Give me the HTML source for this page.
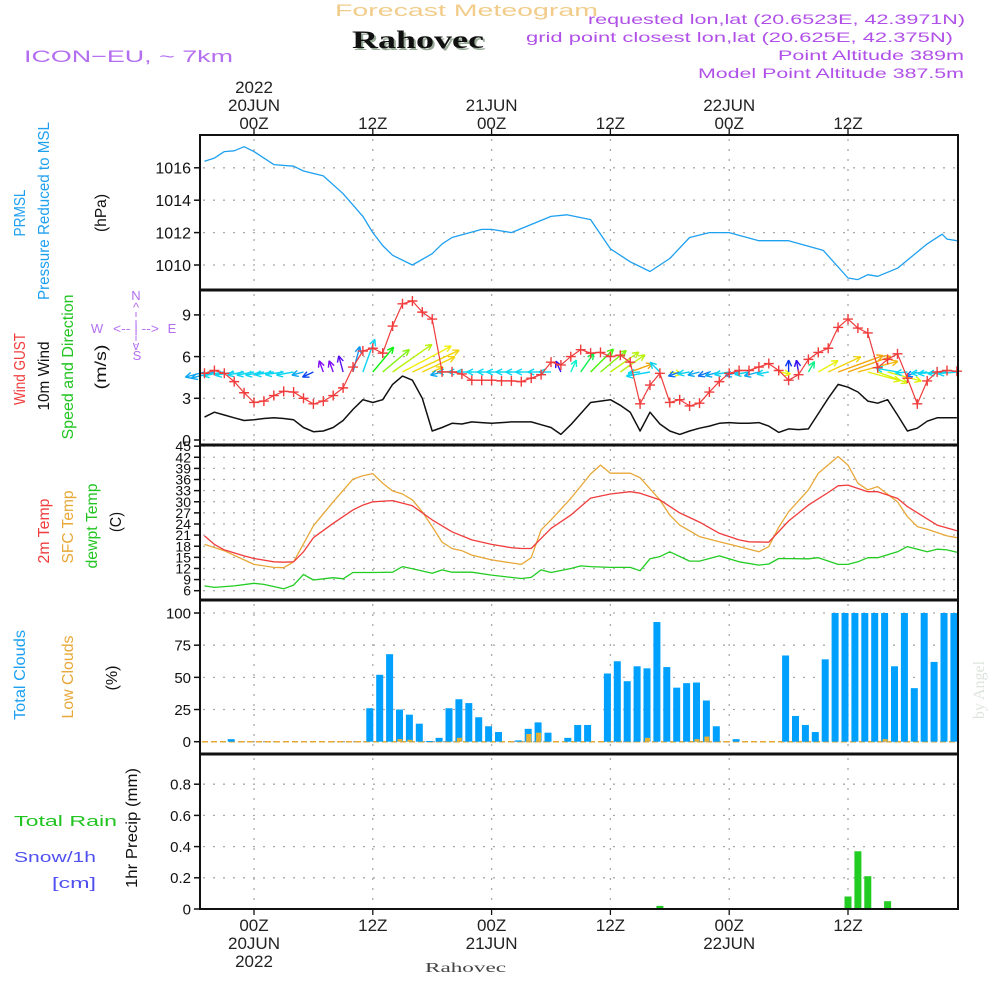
<!DOCTYPE html>
<html><head><meta charset="utf-8"><title>Forecast Meteogram Rahovec</title>
<style>
html,body{margin:0;padding:0;background:#fff;}
svg{display:block;font-family:"Liberation Sans",sans-serif;}
</style></head>
<body>
<svg id="chart" width="1000" height="1000" viewBox="0 0 1000 1000" xmlns="http://www.w3.org/2000/svg">
<g>
<text x="335" y="16" font-size="17" fill="#f2cc8a" textLength="263" lengthAdjust="spacingAndGlyphs">Forecast Meteogram</text>
<text x="354" y="50" font-size="25" font-weight="bold" font-family="Liberation Serif, serif" fill="#9a9" textLength="132" lengthAdjust="spacingAndGlyphs">Rahovec</text>
<text x="352" y="48" font-size="25" font-weight="bold" font-family="Liberation Serif, serif" fill="#111" textLength="132" lengthAdjust="spacingAndGlyphs">Rahovec</text>
<text x="24" y="62" font-size="17" fill="#b46ef0" textLength="209" lengthAdjust="spacingAndGlyphs">ICON−EU, ~ 7km</text>
<text x="588" y="24" font-size="14" fill="#b050e8" textLength="377" lengthAdjust="spacingAndGlyphs">requested lon,lat (20.6523E, 42.3971N)</text>
<text x="526" y="42" font-size="14" fill="#b050e8" textLength="427" lengthAdjust="spacingAndGlyphs">grid point closest lon,lat (20.625E, 42.375N)</text>
<text x="778" y="60" font-size="14" fill="#b050e8" textLength="186" lengthAdjust="spacingAndGlyphs">Point Altitude 389m</text>
<text x="698" y="78" font-size="14" fill="#b050e8" textLength="266" lengthAdjust="spacingAndGlyphs">Model Point Altitude 387.5m</text>
</g>
<g font-size="16">
<text transform="translate(25,213) rotate(-90)" text-anchor="middle" fill="#1ea0f0" textLength="47" lengthAdjust="spacingAndGlyphs">PRMSL</text>
<text transform="translate(49,211) rotate(-90)" text-anchor="middle" fill="#1ea0f0" textLength="178" lengthAdjust="spacingAndGlyphs">Pressure Reduced to MSL</text>
<text transform="translate(106,213) rotate(-90)" text-anchor="middle" fill="#111" textLength="38" lengthAdjust="spacingAndGlyphs">(hPa)</text>
<text transform="translate(25,369) rotate(-90)" text-anchor="middle" fill="#f03c3c" textLength="72" lengthAdjust="spacingAndGlyphs">Wind GUST</text>
<text transform="translate(49,376) rotate(-90)" text-anchor="middle" fill="#111" textLength="69" lengthAdjust="spacingAndGlyphs">10m Wind</text>
<text transform="translate(73,367) rotate(-90)" text-anchor="middle" fill="#22c422" textLength="145" lengthAdjust="spacingAndGlyphs">Speed and Direction</text>
<text transform="translate(106,367) rotate(-90)" text-anchor="middle" fill="#111" textLength="45" lengthAdjust="spacingAndGlyphs">(m/s)</text>
<g fill="#b46ef0" font-size="13" text-anchor="middle">
<text x="136" y="300">N</text><text x="136" y="312">^</text>
<text x="137" y="360">S</text><text x="136" y="350">v</text>
<text x="97" y="333">W</text><text x="172" y="333">E</text>
<text x="136" y="333" textLength="46" lengthAdjust="spacingAndGlyphs">&lt;-- | --&gt;</text>
<line x1="136" y1="312" x2="136" y2="345" stroke="#b46ef0" stroke-dasharray="5,3"/>
</g>
<text transform="translate(49,531) rotate(-90)" text-anchor="middle" fill="#f03c3c" textLength="65" lengthAdjust="spacingAndGlyphs">2m Temp</text>
<text transform="translate(73,527) rotate(-90)" text-anchor="middle" fill="#e8a838" textLength="73" lengthAdjust="spacingAndGlyphs">SFC Temp</text>
<text transform="translate(97,526) rotate(-90)" text-anchor="middle" fill="#22c422" textLength="85" lengthAdjust="spacingAndGlyphs">dewpt Temp</text>
<text transform="translate(121,522) rotate(-90)" text-anchor="middle" fill="#111" textLength="20" lengthAdjust="spacingAndGlyphs">(C)</text>
<text transform="translate(25,675) rotate(-90)" text-anchor="middle" fill="#1ea0f0" textLength="90" lengthAdjust="spacingAndGlyphs">Total Clouds</text>
<text transform="translate(73,677) rotate(-90)" text-anchor="middle" fill="#e8a838" textLength="83" lengthAdjust="spacingAndGlyphs">Low Clouds</text>
<text transform="translate(117,678) rotate(-90)" text-anchor="middle" fill="#111" textLength="25" lengthAdjust="spacingAndGlyphs">(%)</text>
<text x="14" y="826" font-size="15" fill="#22c422" textLength="103" lengthAdjust="spacingAndGlyphs">Total   Rain</text>
<text x="14" y="862" font-size="15" fill="#5050f0" textLength="82" lengthAdjust="spacingAndGlyphs">Snow/1h</text>
<text x="52" y="888" font-size="15" fill="#5050f0" textLength="44" lengthAdjust="spacingAndGlyphs">[cm]</text>
<text transform="translate(137,828) rotate(-90)" text-anchor="middle" fill="#111" textLength="120" lengthAdjust="spacingAndGlyphs">1hr Precip (mm)</text>
</g>
<text transform="translate(984,690) rotate(-90)" text-anchor="middle" font-size="16" font-family="Liberation Serif, serif" fill="#dde4dd">by Angel</text>
<text x="425" y="972" font-size="14" font-family="Liberation Serif, serif" fill="#444" textLength="81" lengthAdjust="spacingAndGlyphs">Rahovec</text>
<g id="layer"></g>
</svg>
<script>
// ---- data ----
var pTimes = [-5,-4,-3,-2,-1,0,1,2,4,5,7,9,11,12,13,14,16,18,19,20,23,24,26,28,30,31.6,34,36,38,40,42,44,46,48,51,54,57.5,60,61,62,63,65,66,68,69.5,70,71];
var pVals  = [1016.4,1016.6,1017.0,1017.05,1017.3,1017.0,1016.6,1016.2,1016.1,1015.8,1015.5,1014.4,1013.0,1012.0,1011.2,1010.6,1010.0,1010.7,1011.3,1011.7,1012.2,1012.2,1012.0,1012.5,1013.0,1013.1,1012.8,1011.0,1010.2,1009.6,1010.4,1011.7,1012.0,1012.0,1011.5,1011.5,1010.9,1009.2,1009.1,1009.4,1009.3,1009.8,1010.3,1011.3,1011.9,1011.6,1011.5];
var pressureTicks = [1010,1012,1014,1016];

var hourStart = -5;
var gustVals = [4.8,5.0,4.8,4.2,3.4,2.7,2.8,3.2,3.5,3.45,3.0,2.6,2.8,3.2,3.75,5.25,6.4,6.6,6.25,8.2,9.8,10.0,9.2,8.7,4.9,4.9,4.75,4.3,4.3,4.3,4.25,4.25,4.2,4.45,4.7,5.6,5.4,6.0,6.5,6.25,6.3,6.0,6.1,5.6,2.6,3.95,4.8,2.7,2.9,2.45,2.65,3.45,4.2,4.8,5.0,5.0,5.25,5.5,5.0,4.3,4.7,5.8,6.3,6.6,8.1,8.7,8.05,7.7,5.2,5.8,6.2,4.45,2.6,4.25,4.9,5.0,4.95];
var windVals = [1.65,2.0,1.8,1.6,1.4,1.45,1.55,1.6,1.55,1.45,0.9,0.6,0.65,0.9,1.4,2.2,2.9,2.7,2.9,4.0,4.6,4.3,3.0,0.65,0.9,1.2,1.15,1.3,1.25,1.2,1.25,1.3,1.3,1.3,1.1,0.9,0.4,1.1,1.9,2.7,2.8,2.9,2.5,2.0,0.65,2.0,1.15,0.65,0.4,0.65,0.85,1.0,1.2,1.25,1.2,1.2,1.25,1.0,0.55,0.8,0.75,0.8,1.9,3.0,4.0,3.8,3.45,2.8,2.65,2.9,1.8,0.65,0.85,1.35,1.6,1.6,1.6];
var windDir = [195,195,190,190,190,190,190,188,188,190,195,205,110,110,105,75,70,50,40,35,28,25,25,25,195,180,180,180,180,180,180,180,180,180,180,180,115,65,55,45,40,35,35,20,185,190,135,350,200,190,195,200,195,190,195,190,195,190,350,90,100,60,30,25,20,20,15,-15,-20,-15,170,185,200,185,185,185,185];
var windTicks = [0,3,6,9];

var t2Times = [-5,-4,-3,-1,0,2,3,4,5,6,8,10,11,12,14,16,18,20,22,24,26,27,28,29,30,32,34,36,38,39,41,43,45,47,49,50,52,54,56,58,59,60,62,63,65,66,69,71];
var t2Vals  = [20.8,18.5,17.0,15.4,14.7,13.8,13.7,13.8,16.5,20.3,24.2,27.8,29.1,30.0,30.3,28.9,25.1,21.9,19.7,18.5,17.6,17.4,17.4,20.1,22.8,26.4,31.0,32.1,32.7,32.3,30.5,27.0,24.5,21.5,19.7,19.2,19.1,24.8,29.1,32.5,34.3,34.5,32.7,32.7,30.9,28.7,23.7,22.2];
var sfcTimes = [-5,-3,-1,0,2,3,4,6,8,10,11,12,13,14,15,16,17,18,19,20,21,22,24,27,28,29,30,32,34,35,36,38,39,41,42,43,45,47,49,51,52,53,54,56,57,59,60,61,62,63,65,66,67,68,70,71];
var sfcVals  = [18.5,16.8,14.3,13.1,12.3,12.2,13.8,23.5,30.0,36.1,37.0,37.6,35.0,32.9,32.1,30.5,27.3,23.3,19.1,17.4,16.8,15.6,14.3,13.1,14.9,22.4,25.1,30.9,37.5,39.9,37.7,37.7,36.5,30.5,26.4,23.7,20.6,19.2,17.9,16.5,17.9,23.1,27.3,33.2,37.7,42.2,39.9,35.0,33.2,34.1,30.0,26.0,23.3,22.6,20.8,20.3];
var dewTimes = [-5,-4,-2,0,1,3,4,5,6,8,9,10,12,14,15,16,18,19,20,22,24,27,28,29,30,32,33,34,36,38,39,40,41,42,44,45,47,49,51,52,53,56,57,59,60,61,62,63,65,66,68,69,70,71];
var dewVals  = [7.3,6.9,7.3,8.0,7.7,6.5,7.5,10.4,8.9,9.5,9.2,10.9,10.9,11.0,12.5,11.9,10.7,11.6,11.0,11.0,10.2,9.3,9.6,11.6,10.9,12.0,12.7,12.5,12.3,12.3,11.4,14.6,15.2,16.5,14.0,14.0,15.4,13.8,12.9,13.2,14.7,14.6,14.9,13.1,13.1,13.8,14.9,14.9,16.5,17.9,16.5,17.2,17.0,16.4];
var tempTicks = [6,9,12,15,18,21,24,27,30,33,36,39,42,45];

var cloudTotal = [0,0,0,2,0,0,0,0,0,0,0,0,0,0,0,0,0,26,52,68,25,21,14,0.5,3,26,33,30,19,12,7.5,0,1,10,15,7,0,3,13,13,0,53,62.5,47,58.6,57,93,58,42,45.5,46,32,12,0,2,0,0,0,0,67,20,13,7.5,64,100,100,100,100,100,100,58.6,100,41.6,100,62,100,100];
var lowTimes = [15,16,21,28,29,40,45,46,64];
var lowVals  = [2,1.5,3,6,7,3,2,4,2];
var cloudTicks = [0,25,50,75,100];

var precipTimes = [41,60,61,62,64];
var precipVals  = [0.02,0.08,0.37,0.21,0.05];
var precipTicks = [0,0.2,0.4,0.6,0.8];

var majorTimes = [0,12,24,36,48,60];
var topLabels = [["2022","20JUN","00Z"],["","","12Z"],["","21JUN","00Z"],["","","12Z"],["","22JUN","00Z"],["","","12Z"]];
var bottomLabels = [["00Z","20JUN","2022"],["12Z","",""],["00Z","21JUN",""],["12Z","",""],["00Z","22JUN",""],["12Z","",""]];

// ---- scales ----
var X0 = 200, X1 = 958;
function xT(t){ return 254 + t*9.9; }
function yP(v){ return 265 - (v-1010)*16.2; }
function yW(v){ return 440 - v*13.9; }
function yT(v){ return 590.7 - (v-6)*3.706; }
function yC(v){ return 741.7 - v*1.287; }
function yR(v){ return 909 - v*156; }

var NS = "http://www.w3.org/2000/svg";
var layer = document.getElementById("layer");
function mk(tag, attrs, parent){
  var e = document.createElementNS(NS, tag);
  for (var k in attrs) e.setAttribute(k, attrs[k]);
  (parent||layer).appendChild(e);
  return e;
}
function gridH(vals, yf){
  vals.forEach(function(v){
    var l = mk("line",{x1:X0+3,x2:X1,y1:yf(v),y2:yf(v),stroke:"#aaa","stroke-width":1.3,"stroke-dasharray":"2,8"});
    
    
  });
}
function ticksY(vals, yf, fmt, fs, name){
  vals.forEach(function(v){
    mk("line",{x1:X0-6,x2:X0,y1:yf(v),y2:yf(v),stroke:"#111","stroke-width":1.5});
    var t = mk("text",{x:X0-9,y:yf(v)+fs*0.36,"text-anchor":"end","font-size":fs,fill:"#111"});
    t.textContent = fmt(v);
    
    
  });
}
function poly(times, vals, yf, color, name, w){
  var pts = times.map(function(t,i){ return xT(t).toFixed(1)+","+yf(vals[i]).toFixed(1); }).join(" ");
  var p = mk("polyline",{points:pts,fill:"none",stroke:color,"stroke-width":w||1.3,"stroke-linejoin":"round"});
  
  
  return p;
}
function hours(n){ var a=[]; for(var i=0;i<n;i++) a.push(hourStart+i); return a; }

// vertical grid
var panels = [[135,290],[290,445],[445,600],[600,754],[754,909]];
panels.forEach(function(pn){
  majorTimes.forEach(function(t){
    var l = mk("line",{x1:xT(t),x2:xT(t),y1:pn[0]+4,y2:pn[1],stroke:"#aaa","stroke-width":1.3,"stroke-dasharray":"2,8"});
    
    
  });
});

// horizontal grids & ticks
gridH(pressureTicks, yP); ticksY(pressureTicks, yP, function(v){return v;}, 16, 'pressure-tick-label');
gridH(windTicks, yW); ticksY(windTicks, yW, function(v){return v;}, 16, 'wind-tick-label');
gridH(tempTicks, yT); ticksY(tempTicks, yT, function(v){return v;}, 14, 'temp-tick-label');
gridH(cloudTicks, yC); ticksY(cloudTicks, yC, function(v){return v;}, 15, 'cloud-tick-label');
gridH(precipTicks.slice(1), yR); ticksY(precipTicks, yR, function(v){return v===0?"0":v.toFixed(1);}, 15, 'precip-tick-label');

// pressure
poly(pTimes, pVals, yP, "#1ea0f0", "pressure-line", 1.3);

// wind speed
var hw = hours(windVals.length);
poly(hw, windVals, yW, "#111", "wind-speed-line", 1.5);

// wind arrows
var hueTable = [[-30,70],[0,60],[20,40],[35,75],[50,120],[65,170],[75,205],[90,230],[110,270],[130,190],[170,185],[190,188],[205,225],[300,260],[340,75],[370,60]];
function hueFor(a){
  if (a<-30) a+=360; if (a>330) a-=360;
  for (var i=0;i<hueTable.length-1;i++){
    var p=hueTable[i], q=hueTable[i+1];
    if (a>=p[0] && a<=q[0]) return p[1]+(q[1]-p[1])*(a-p[0])/(q[0]-p[0]);
  }
  return 180;
}
windDir.forEach(function(d,i){
  var t = hourStart+i, s = windVals[i];
  var len = Math.max(12, s*12);
  var r = d*Math.PI/180;
  var x1 = xT(t), y1 = 372;
  var x2 = x1 + len*Math.cos(r), y2 = y1 - len*Math.sin(r);
  var col = "hsl("+hueFor(d).toFixed(0)+",90%,50%)";
  var g = mk("g",{stroke:col,"stroke-width":1.4,fill:"none"});
  
  
  mk("line",{x1:x1,y1:y1,x2:x2,y2:y2},g);
  var hl = 7, ha = 0.45;
  [r+Math.PI-ha, r+Math.PI+ha].forEach(function(b){
    mk("line",{x1:x2,y1:y2,x2:x2+hl*Math.cos(b),y2:y2-hl*Math.sin(b)},g);
  });
});

// gust
var hg = hours(gustVals.length);
poly(hg, gustVals, yW, "#f03c3c", "gust-line", 1.2);
gustVals.forEach(function(v,i){
  var x = xT(hourStart+i), y = yW(v);
  var m = mk("path",{d:"M"+(x-5)+","+y+"H"+(x+5)+"M"+x+","+(y-5)+"V"+(y+5),stroke:"#f03c3c","stroke-width":1.4});
  
  
});

// temps
poly(sfcTimes, sfcVals, yT, "#e8a838", "sfc-temp-line", 1.3);
poly(t2Times, t2Vals, yT, "#f03c3c", "t2m-line", 1.3);
poly(dewTimes, dewVals, yT, "#22cc22", "dewpoint-line", 1.3);

// clouds
mk("line",{x1:X0+2,x2:X1,y1:yC(0),y2:yC(0),stroke:"#e8a838","stroke-width":1.5,"stroke-dasharray":"6,3"});
cloudTotal.forEach(function(v,i){
  if (v<=0) return;
  var x = xT(hourStart+i)-3;
  var b = mk("rect",{x:x-3.5,y:yC(v),width:7,height:Math.max(1,yC(0)-yC(v)),fill:"#00a0ff"});
  
  
});
lowTimes.forEach(function(t,i){
  var x = xT(t)-3, v = lowVals[i];
  var b = mk("rect",{x:x-2,y:yC(v),width:5,height:yC(0)-yC(v),fill:"#e8b030"});
  
  
});

// precip
mk("line",{x1:X0,x2:X1,y1:yR(0),y2:yR(0),stroke:"#111","stroke-width":1.5,"stroke-dasharray":"5,3"});
precipTimes.forEach(function(t,i){
  var x = xT(t), v = precipVals[i];
  var b = mk("rect",{x:x-3.5,y:yR(v),width:7,height:yR(0)-yR(v),fill:"#22cc22"});
  
  
});

// frames
var fr = mk("rect",{x:X0,y:135,width:X1-X0,height:909-135,fill:"none",stroke:"#111","stroke-width":2});


[290,445,600,754].forEach(function(y){
  var l = mk("line",{x1:X0,x2:X1,y1:y,y2:y,stroke:"#111","stroke-width":3});
  
  
});

// time axes
majorTimes.forEach(function(t,i){
  var x = xT(t);
  mk("line",{x1:x,x2:x,y1:129,y2:135,stroke:"#111","stroke-width":1.3});
  mk("line",{x1:x,x2:x,y1:909,y2:915,stroke:"#111","stroke-width":1.3});
  var top = topLabels[i], ys=[93,111,129];
  top.forEach(function(s,j){
    if(!s) return;
    var tx = mk("text",{x:x,y:ys[j],"text-anchor":"middle","font-size":17,fill:"#222"});
    tx.textContent = s;
    
    
  });
  var bot = bottomLabels[i], yb=[931,949,967];
  bot.forEach(function(s,j){
    if(!s) return;
    var tx = mk("text",{x:x,y:yb[j],"text-anchor":"middle","font-size":17,fill:"#222"});
    tx.textContent = s;
    
    
  });
});
</script>
</body></html>
